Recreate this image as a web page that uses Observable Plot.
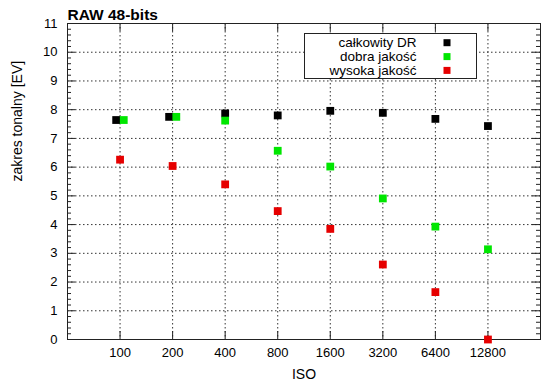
<!DOCTYPE html>
<html><head><meta charset="utf-8">
<script src="https://cdn.jsdelivr.net/npm/d3@7"></script>
<script src="https://cdn.jsdelivr.net/npm/@observablehq/plot@0.6"></script>
<style>body{margin:0;background:#fff} svg{display:block}</style>
</head><body><div id="chart"></div>
<script>
const isoTicks = [100, 200, 400, 800, 1600, 3200, 6400, 12800];
const seriesNames = ["całkowity DR", "dobra jakość", "wysoka jakość"];
const seriesColors = ["#000000", "#00e600", "#e60000"];
const totalIso = [95, 191, 400, 800, 1600, 3200, 6400, 12800];
const totalDR = [7.64, 7.75, 7.87, 7.80, 7.96, 7.89, 7.68, 7.43];
const goodIso = [105, 210, 400, 800, 1600, 3200, 6400, 12800];
const goodDR = [7.64, 7.75, 7.62, 6.57, 6.02, 4.91, 3.93, 3.14];
const highIso = [100, 200, 400, 800, 1600, 3200, 6400, 12800];
const highDR = [6.26, 6.04, 5.40, 4.47, 3.85, 2.61, 1.65, 0.0];
const yTicks = [0,1,2,3,4,5,6,7,8,9,10,11];
const yGrid = [1,2,3,4,5,6,7,8,9,10];
const yMinor = d3.range(0, 55).map(i => i / 5).filter(v => Math.abs(v - Math.round(v)) > 1e-6);
const xDomain = [50, 25600];
const yDomain = [0, 11];

const W = 550, H = 389, mL = 67, mR = 10, mT = 23, mB = 50;
const fw = W - mL - mR, fh = H - mT - mB;
const FONT = "'Liberation Sans', Arial, Helvetica, sans-serif";

const mk = (iso, dr) => iso.map((x, i) => ({iso: x, dr: dr[i]}));
const series = [mk(totalIso, totalDR), mk(goodIso, goodDR), mk(highIso, highDR)];
const dark = "#222";

const chart = Plot.plot({
  width: W, height: H,
  marginLeft: mL, marginRight: mR, marginTop: mT, marginBottom: mB,
  style: {fontFamily: FONT, fontSize: "13px", color: "#000", background: "#fff"},
  x: {type: "log", base: 2, domain: xDomain},
  y: {domain: yDomain},
  marks: [
    Plot.ruleY(yGrid, {stroke: "#333", strokeDasharray: "1.5,2.5", strokeWidth: 1}),
    Plot.ruleX(isoTicks, {stroke: "#333", strokeDasharray: "1.5,2.5", strokeWidth: 1}),
    Plot.frame({stroke: dark, strokeWidth: 1}),
    Plot.tickY(yTicks, {insetRight: fw - 8, stroke: dark}),
    Plot.tickY(yMinor, {insetRight: fw - 4, stroke: dark}),
    Plot.tickY(yTicks, {insetLeft: fw - 8, stroke: dark}),
    Plot.tickY(yMinor, {insetLeft: fw - 4, stroke: dark}),
    Plot.tickX(isoTicks, {insetTop: fh - 8, stroke: dark}),
    Plot.tickX(isoTicks, {insetBottom: fh - 8, stroke: dark}),
    Plot.axisY(yTicks, {tickSize: 0, tickPadding: 10, label: null, fontSize: 13}),
    Plot.axisX(isoTicks, {tickSize: 0, tickPadding: 8, label: null, fontSize: 13, tickFormat: d => String(d)}),
    Plot.text(["ISO"], {frameAnchor: "bottom", dy: 35, lineAnchor: "middle", fontSize: 14}),
    Plot.text(["zakres tonalny [EV]"], {frameAnchor: "left", dx: -50, rotate: -90, lineAnchor: "middle", fontSize: 14}),
    Plot.text(["RAW 48-bits"], {frameAnchor: "top-left", dy: -4, textAnchor: "start", lineAnchor: "bottom", fontWeight: "bold", fontSize: 15.5}),
    ...series.map((s, i) => Plot.dot(s, {x: "iso", y: "dr", symbol: "square", r: 4.4, fill: seriesColors[i], stroke: "none"}))
  ]
});

// legend box
const svg = d3.select(chart);
const lg = svg.append("g").attr("font-family", FONT).attr("font-size", 13.5);
lg.append("rect").attr("x", 304.5).attr("y", 33.5).attr("width", 172).attr("height", 45)
  .attr("fill", "#fff").attr("stroke", dark);
const rowsY = [42.7, 56.6, 70.4];
seriesNames.forEach((n, i) => {
  lg.append("text").attr("x", 416.5).attr("y", rowsY[i]).attr("dy", "0.35em")
    .attr("text-anchor", "end").attr("fill", "#000").text(n);
  lg.append("rect").attr("x", 443.5).attr("y", rowsY[i] - 3.5).attr("width", 7).attr("height", 7)
    .attr("fill", seriesColors[i]);
});
document.getElementById("chart").appendChild(chart);
</script>
</body></html>
